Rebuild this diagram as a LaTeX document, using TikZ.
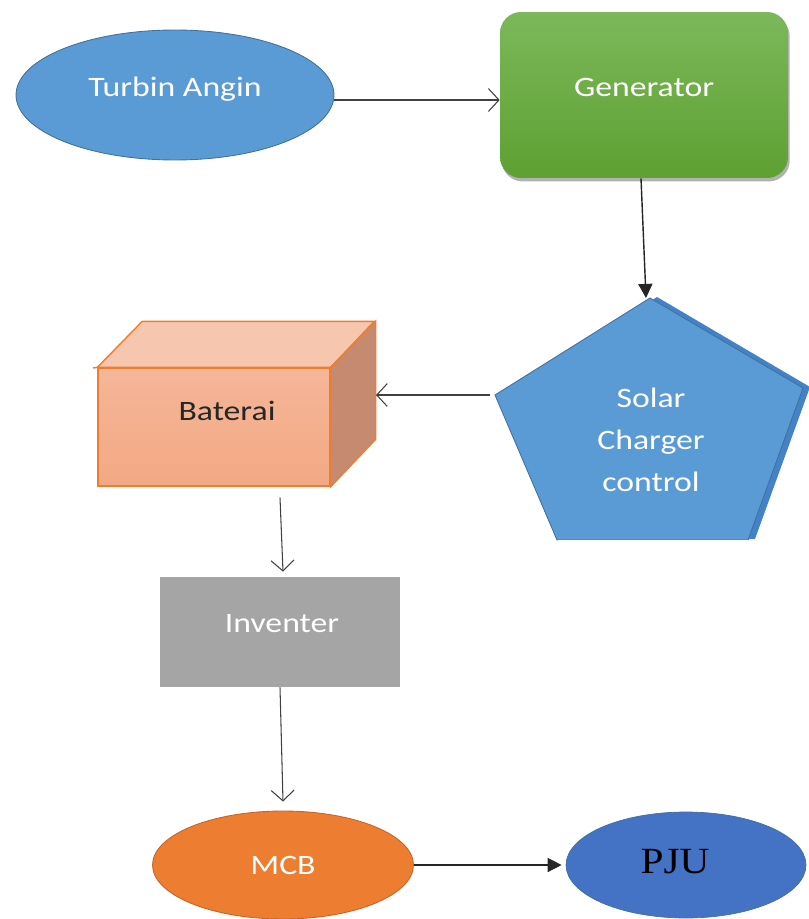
\documentclass[tikz,border=0pt]{standalone}
\usepackage{fontspec}
\setmainfont[FakeStretch=1.2]{Carlito}
\newfontfamily\pjufont[FakeStretch=1.12]{Liberation Serif}
\usetikzlibrary{arrows.meta,shapes.geometric,shadows,calc}
\definecolor{tblue}{RGB}{91,155,213}
\definecolor{tblueline}{RGB}{65,113,156}
\definecolor{tblueshadow}{RGB}{68,130,200}
\definecolor{gtop}{RGB}{124,184,90}
\definecolor{gbot}{RGB}{94,160,50}
\definecolor{oline}{RGB}{237,125,49}
\definecolor{mcbfill}{RGB}{237,125,49}
\definecolor{mcbline}{RGB}{200,100,40}
\definecolor{pjufill}{RGB}{68,114,196}
\definecolor{invfill}{RGB}{165,165,165}
\definecolor{agray}{RGB}{64,64,64}
\definecolor{btop}{RGB}{247,198,174}
\definecolor{bfronttop}{RGB}{245,182,152}
\definecolor{bfrontbot}{RGB}{243,168,132}
\definecolor{bright}{RGB}{197,138,112}
\definecolor{btext}{RGB}{38,38,38}
\tikzset{
  txt/.style={font=\fontsize{16}{24}\selectfont, text=white, align=center},
  openarrow/.style={draw=agray, line width=0.6pt, -{Straight Barb[length=6pt,width=13pt,line width=0.6pt]}},
  fillarrow/.style={draw=black!85, line width=0.8pt, -{Triangle[length=8pt,width=8pt]}},
  blueell/.style={ellipse, fill=tblue, draw=tblueline, line width=0.5pt, inner sep=0pt},
}
\begin{document}
\begin{tikzpicture}[x=0.02cm,y=-0.02cm]
\useasboundingbox (0,0) rectangle (808,919);
% Turbin Angin
\node[blueell, minimum width=6.36cm, minimum height=2.6cm] (turb) at (175,95) {};
\node[txt] at (175,89) {Turbin Angin};
% Generator
\node[rectangle, rounded corners=0.42cm, minimum width=5.76cm, minimum height=3.32cm,
      top color=gtop, bottom color=gbot, draw=none,
      drop shadow={shadow xshift=1pt, shadow yshift=-2pt, opacity=0.3, fill=black}] (gen) at (644,95) {};
\node[txt] at (644,87) {Generator};
% Solar charger control pentagon
\coordinate (sccTop) at (646,298);
\coordinate (sccLeft) at (495,395);
\fill[tblueshadow] (657,297) -- (810,387) -- (755,539) -- (564,539) -- (502,394) -- cycle;
\draw[fill=tblue, draw=tblueline, line width=0.5pt] (650,298) -- (803,388) -- (748,540) -- (557,540) -- (sccLeft) -- cycle;
\draw[white, line width=0.8pt] (558,541) -- (748,541);
\node[txt] (scc) at (651,440) {Solar\\Charger\\control};
% Baterai cube
\node[rectangle, minimum width=4.64cm, minimum height=2.36cm, inner sep=0pt,
      top color=bfronttop, bottom color=bfrontbot, draw=oline, line width=0.8pt] (bat) at (214,427) {};
\draw[fill=btop, draw=oline, line width=0.8pt] (bat.north west) -- ++(45,-46) -- ++(232,0) -- ($(bat.north east)$) -- cycle;
\draw[fill=bright, draw=oline, line width=0.8pt] (bat.north east) -- ++(45,-46) -- ++(0,118) -- (bat.south east) -- cycle;
\draw[oline, line width=0.8pt] (93,368) -- (bat.north west);
\node[font=\fontsize{16}{19}\selectfont, text=btext] at (227,411) {Baterai};
\coordinate (batR) at (376,395);
% Inventer
\node[rectangle, fill=invfill, minimum width=4.8cm, minimum height=2.2cm, inner sep=0pt] (inv) at (280,632) {};
\node[txt] at (282,624) {Inventer};
% MCB
\node[ellipse, fill=mcbfill, draw=mcbline, line width=0.5pt, minimum width=5.22cm, minimum height=2.16cm, inner sep=0pt] (mcb) at (283,865) {};
\node[txt] at (283,865) {MCB};
% PJU
\node[ellipse, fill=pjufill, draw=tblueline, line width=0.4pt, minimum width=4.8cm, minimum height=2.12cm, inner sep=0pt] (pju) at (686,865) {};
\node[font=\fontsize{21}{24}\selectfont\pjufont, text=black] at (675,862) {PJU};
% connectors
\draw[openarrow] ($(turb.east)+(0,5)$) -- ($(gen.west)+(0,5)$);
\draw[fillarrow] ($(gen.south)+(-3,0)$) -- (sccTop);
\draw[openarrow] ($(sccLeft)+(-5,0)$) -- (batR);
\draw[openarrow] ($(bat.south)+(66,11)$) -- ($(inv.north)+(3,-5)$);
\draw[openarrow] (inv.south) -- ($(mcb.north)+(0,-9)$);
\draw[fillarrow] (mcb.east) -- ($(pju.west)+(-4,0)$);
\end{tikzpicture}
\end{document}
